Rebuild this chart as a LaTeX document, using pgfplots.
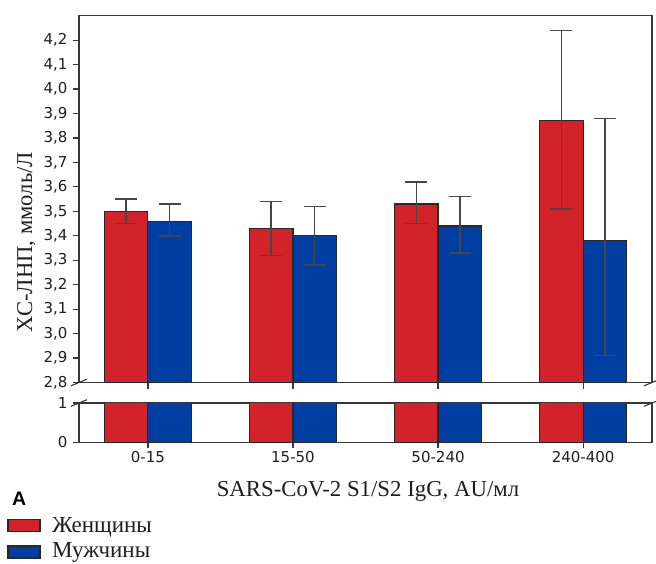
\documentclass[border=0pt]{standalone}
\usepackage{pgfplots}
\pgfplotsset{compat=1.18}
\usepackage{pgfplotstable}
\usepackage{fontspec}
\setmainfont{Liberation Serif}
\newfontfamily\dejavu{DejaVu Sans}
\newfontfamily\libsans{Liberation Sans}

\definecolor{fred}{RGB}{210,35,42}
\definecolor{mblue}{RGB}{0,62,161}
\definecolor{errc}{RGB}{70,70,70}
\definecolor{edge}{RGB}{40,40,40}
\definecolor{axc}{RGB}{55,55,55}
\definecolor{txtc}{RGB}{30,30,30}

\pgfplotstableread{
x y ep em
0 3.50 0.05 0.05
1 3.43 0.11 0.11
2 3.53 0.09 0.08
3 3.87 0.37 0.36
}\women
\pgfplotstableread{
x y ep em
0 3.46 0.07 0.06
1 3.40 0.12 0.12
2 3.44 0.12 0.11
3 3.38 0.50 0.47
}\men

\pgfplotsset{
  brk/.style={
    scale only axis, width=573pt,
    xmin=-0.475, xmax=3.475,
    axis line style={draw=axc, line width=1.2pt},
    every tick/.style={draw=axc, line width=1.2pt},
    major tick length=6pt,
    tick align=outside,
    xtick pos=bottom, ytick pos=left,
    xtick={0,1,2,3},
    ybar, bar width=0.3,
    tick label style={font=\dejavu\fontsize{15}{17}\selectfont, text=txtc},
    yticklabel style={xshift=-2pt},
    /pgf/number format/assume math mode=true,
    clip mode=individual,
  },
  errstyle/.style={
    error bars/.cd, y dir=both, y explicit,
    error bar style={draw=errc, line width=1.5pt},
    error mark options={rotate=90, draw=errc, line width=1.5pt, mark size=11pt},
  },
}

\begin{document}
\begin{tikzpicture}[x=1pt,y=1pt]
\path[use as bounding box] (0,0) rectangle (656,563);

\begin{axis}[brk, name=upper, at={(79pt,180.5pt)}, anchor=south west,
  height=366.8pt, ymin=2.8, ymax=4.3,
  ytick={2.8,2.9,3.0,3.1,3.2,3.3,3.4,3.5,3.6,3.7,3.8,3.9,4.0,4.1,4.2},
  yticklabel style={/pgf/number format/.cd, fixed, fixed zerofill, precision=1, use comma},
  xticklabels={}]
\addplot[fill=fred, draw=edge, line width=1.1pt, bar shift=-0.15, errstyle]
  table[x=x, y=y, y error plus=ep, y error minus=em]{\women};
\addplot[fill=mblue, draw=edge, line width=1.1pt, bar shift=0.15, errstyle]
  table[x=x, y=y, y error plus=ep, y error minus=em]{\men};
\end{axis}

\begin{axis}[brk, name=lower, at={(79pt,120.7pt)}, anchor=south west,
  height=39.3pt, ymin=0, ymax=1, ytick={0,1},
  xticklabels={0-15,15-50,50-240,240-400}]
\addplot[fill=fred, draw=edge, line width=1.1pt, bar shift=-0.15]
  table[x=x, y=y]{\women};
\addplot[fill=mblue, draw=edge, line width=1.1pt, bar shift=0.15]
  table[x=x, y=y]{\men};
\end{axis}

% axis break marks
\foreach \a in {upper.south west, upper.south east, lower.north west, lower.north east}{
  \draw[axc, line width=1.1pt] ([shift={(-8pt,-3.3pt)}]\a) -- ([shift={(8pt,3.3pt)}]\a);
}

% axis titles
\node[anchor=base, text=txtc, font=\fontsize{22.8}{24}\selectfont] at (368,67) {SARS-CoV-2 S1/S2 IgG, AU/мл};
\node[anchor=base, rotate=90, text=txtc, font=\fontsize{22.6}{24}\selectfont] at (32,321) {ХС-ЛНП, ммоль/Л};

% panel letter and legend
\node[anchor=base west, inner sep=0pt, font=\libsans\bfseries\fontsize{19.5}{21}\selectfont] at (12,58) {A};
\draw[fill=fred, draw=edge, line width=1.1pt] (8,31.5) rectangle (40,43.5);
\node[anchor=base west, inner sep=0pt, text=txtc, font=\fontsize{23}{24}\selectfont] at (52,31) {Женщины};
\draw[fill=mblue, draw=edge, line width=1.1pt] (8,5) rectangle (40,17);
\node[anchor=base west, inner sep=0pt, text=txtc, font=\fontsize{23}{24}\selectfont] at (52,5.5) {Мужчины};
\end{tikzpicture}
\end{document}
